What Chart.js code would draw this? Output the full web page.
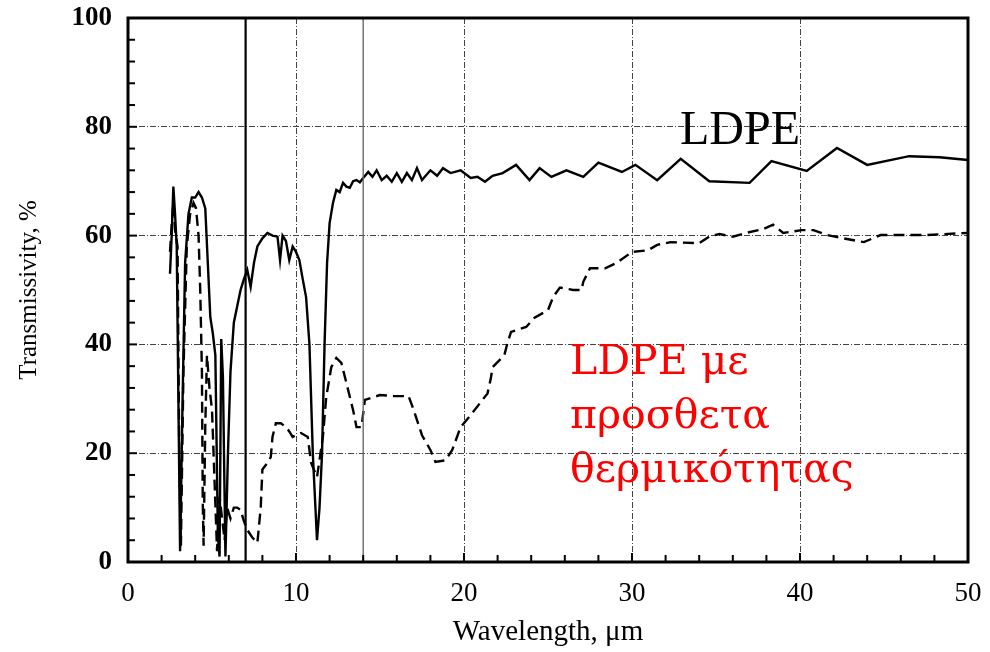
<!DOCTYPE html>
<html>
<head>
<meta charset="utf-8">
<script src="https://cdn.jsdelivr.net/npm/chart.js@4"></script>
<style>
  html, body { margin: 0; padding: 0; background: #fff; }
  #wrap { position: relative; width: 990px; height: 652px; }
  .lbl { position: absolute; white-space: nowrap; }
  #ldpe { left: 680px; top: 100px; font: 48px "Liberation Serif", serif; color: #000; }
  #ldpeAdd { left: 570px; top: 333px; font: 41px/54px "DejaVu Serif", serif; color: #ff0000; }
</style>
</head>
<body>
<div id="wrap">
  <canvas id="chart" width="990" height="652"></canvas>
  <div class="lbl" id="ldpe">LDPE</div>
  <div class="lbl" id="ldpeAdd">LDPE με<br>προσθετα<br>θερμικότητας</div>
</div>
<script>
// LDPE (solid)
const ldpeX = [2.5, 2.6, 2.7, 2.8, 2.9, 3.0, 3.1, 3.25, 3.4, 3.6, 3.8, 4.0, 4.2, 4.4, 4.6, 4.75, 4.9, 5.05, 5.2, 5.35, 5.45, 5.55, 5.65, 5.8, 5.95, 6.1, 6.3, 6.5, 6.7, 6.9, 7.1, 7.3, 7.5, 7.7, 8.0, 8.3, 8.6, 8.9, 9.05, 9.2, 9.4, 9.6, 9.8, 10.0, 10.2, 10.4, 10.6, 10.8, 11.0, 11.25, 11.4, 11.55, 11.7, 11.85, 12.0, 12.2, 12.4, 12.6, 12.8, 13.0, 13.2, 13.4, 13.6, 13.8, 14.0, 14.3, 14.55, 14.8, 15.1, 15.4, 15.7, 16.0, 16.3, 16.6, 16.9, 17.2, 17.5, 18.0, 18.4, 18.75, 19.2, 19.8, 20.4, 20.8, 21.25, 21.7, 22.3, 23.1, 23.9, 24.5, 25.2, 26.1, 27.1, 28.0, 29.4, 30.2, 31.5, 32.9, 34.6, 37.0, 38.3, 40.4, 42.2, 44.0, 46.5, 48.3, 50];
const ldpeY = [53, 60, 69, 64, 58, 30, 2, 30, 55, 64, 67, 67, 68, 67, 65, 55, 45, 42, 38, 5, 1, 41, 34, 1, 20, 35, 44, 47, 50, 52, 53.7, 50.6, 55, 58, 59.5, 60.5, 60, 59.8, 55.5, 60, 59, 55.5, 58, 57, 55.5, 52, 48.7, 40, 20, 4, 10, 20, 40, 55, 62.3, 66, 68.4, 68, 69.7, 69, 68.8, 70, 70.2, 69.8, 70.6, 71.7, 70.8, 72, 70.2, 71, 69.9, 71.5, 69.9, 71.5, 70.2, 72.4, 70.2, 72, 71, 72.4, 71.5, 72, 70.6, 70.8, 69.9, 71, 71.5, 73, 70.2, 72.4, 70.8, 72, 70.8, 73.4, 71.7, 73, 70.2, 74.1, 70, 69.7, 73.7, 71.9, 76.1, 73, 74.6, 74.4, 73.9];

// LDPE with additives (dashed)
const addX = [2.5, 2.6, 2.7, 2.8, 2.95, 3.05, 3.15, 3.3, 3.5, 3.7, 3.9, 4.05, 4.2, 4.3, 4.4, 4.45, 4.5, 4.6, 4.7, 4.85, 5.0, 5.15, 5.3, 5.45, 5.6, 5.75, 5.9, 6.1, 6.3, 6.5, 6.7, 6.9, 7.1, 7.4, 7.7, 7.9, 8.0, 8.3, 8.5, 8.6, 8.8, 9.1, 9.4, 9.6, 9.8, 10.3, 10.7, 10.9, 11.25, 11.6, 11.8, 12.1, 12.4, 12.7, 13.0, 13.4, 13.6, 13.9, 14.1, 15.0, 15.8, 16.7, 17.0, 17.5, 18.0, 18.3, 18.9, 19.3, 19.8, 20.4, 21.4, 21.6, 21.7, 22.4, 22.6, 22.8, 23.7, 24.2, 25.0, 25.3, 25.7, 25.8, 26.5, 27.0, 27.1, 27.5, 28.4, 29.1, 30.0, 30.95, 31.5, 32.3, 34.0, 34.6, 35.2, 36.0, 36.8, 37.8, 38.4, 39.0, 40.1, 40.8, 41.6, 42.4, 43.8, 44.8, 46.1, 47.5, 50];
const addY = [57, 62, 66, 61, 58, 20, 3, 35, 58, 64, 66, 65, 60, 50, 35, 11, 3, 25, 38, 32, 28, 15, 2, 12, 8, 4, 10, 8, 10, 10, 9.6, 7.5, 5.9, 4.5, 3.5, 10, 17, 18.2, 19.3, 23, 25.5, 25.5, 24.8, 24, 23, 23.7, 23, 18.2, 15.6, 23, 30.3, 35.8, 37.5, 36.6, 32.9, 27.9, 24.8, 24.8, 29.8, 30.7, 30.5, 30.5, 28, 23.3, 20.6, 18.4, 18.7, 20.6, 24.8, 27, 31, 33.8, 35.8, 38, 40.4, 42.3, 43.2, 44.9, 46.3, 48.7, 50.4, 50.4, 50, 50, 51.5, 54, 54, 55, 57, 57.3, 58.3, 58.8, 58.6, 59.8, 60.3, 59.8, 60.5, 61.2, 62, 60.5, 61, 61, 60.1, 59.6, 58.8, 60.1, 60.1, 60.1, 60.5];

// vertical marker lines
const markerX = [7, 14];
const markerColor = ["#000000", "#6a6a6a"];
const markerWidth = [2.2, 1.4];

const xTicks = [0, 10, 20, 30, 40, 50];
const yTicks = [0, 20, 40, 60, 80, 100];

const toPts = (xs, ys) => xs.map((x, i) => ({ x: x, y: ys[i] }));

const datasets = [];
for (let i = 0; i < markerX.length; i++) {
  datasets.push({
    data: [{ x: markerX[i], y: 0 }, { x: markerX[i], y: 100 }],
    borderColor: markerColor[i],
    borderWidth: markerWidth[i],
    pointRadius: 0
  });
}
datasets.push({
  label: "LDPE",
  data: toPts(ldpeX, ldpeY),
  borderColor: "#000",
  borderWidth: 2.4,
  pointRadius: 0,
  tension: 0
});
datasets.push({
  label: "LDPE με προσθετα θερμικότητας",
  data: toPts(addX, addY),
  borderColor: "#000",
  borderWidth: 2.4,
  borderDash: [11, 6],
  pointRadius: 0,
  tension: 0
});

// frame + inward ticks
const frame = {
  id: "frame",
  afterDatasetsDraw(chart) {
    const ctx = chart.ctx;
    const a = chart.chartArea;
    const xs = chart.scales.x, ys = chart.scales.y;
    ctx.save();
    ctx.strokeStyle = "#000";
    ctx.lineWidth = 2;
    for (let v = 0; v <= 50; v += 2) {
      const px = xs.getPixelForValue(v);
      const len = v % 10 === 0 ? 9 : 7;
      ctx.beginPath();
      ctx.moveTo(px, a.bottom);
      ctx.lineTo(px, a.bottom - len);
      ctx.stroke();
    }
    for (let v = 0; v <= 100; v += 4) {
      const py = ys.getPixelForValue(v);
      const len = v % 20 === 0 ? 9 : 7;
      ctx.beginPath();
      ctx.moveTo(a.left, py);
      ctx.lineTo(a.left + len, py);
      ctx.stroke();
    }
    ctx.lineWidth = 3;
    ctx.strokeRect(a.left, a.top, a.right - a.left, a.bottom - a.top);
    ctx.restore();
  }
};

new Chart(document.getElementById("chart"), {
  type: "line",
  data: { datasets: datasets },
  options: {
    responsive: false,
    animation: false,
    layout: { padding: { left: 0, right: 22, top: 18, bottom: 0 } },
    plugins: { legend: { display: false }, tooltip: { enabled: false } },
    scales: {
      x: {
        type: "linear",
        min: 0,
        max: 50,
        afterFit: s => { s.height = 90; s.paddingLeft = 0; s.paddingRight = 0; },
        afterBuildTicks: s => { s.ticks = xTicks.map(v => ({ value: v })); },
        grid: { color: "#444", lineWidth: 1, drawTicks: false },
        border: { display: false, dash: [6, 2, 1, 2] },
        ticks: { color: "#000", padding: 16, font: { family: "Liberation Serif", size: 27 } },
        title: {
          display: true,
          text: "Wavelength, μm",
          color: "#000",
          padding: { top: 4, bottom: 2 },
          font: { family: "Liberation Serif", size: 29 }
        }
      },
      y: {
        min: 0,
        max: 100,
        afterFit: s => { s.width = 128; s.paddingTop = 0; s.paddingBottom = 0; },
        afterBuildTicks: s => { s.ticks = yTicks.map(v => ({ value: v })); },
        grid: { color: "#444", lineWidth: 1, drawTicks: false },
        border: { display: false, dash: [6, 2, 1, 2] },
        ticks: { color: "#000", padding: 16, font: { family: "Liberation Serif", size: 27, weight: "bold" } },
        title: {
          display: true,
          text: "Transmissivity, %",
          color: "#000",
          padding: { top: 14, bottom: 0 },
          font: { family: "Liberation Serif", size: 25 }
        }
      }
    }
  },
  plugins: [frame]
});
</script>
</body>
</html>
